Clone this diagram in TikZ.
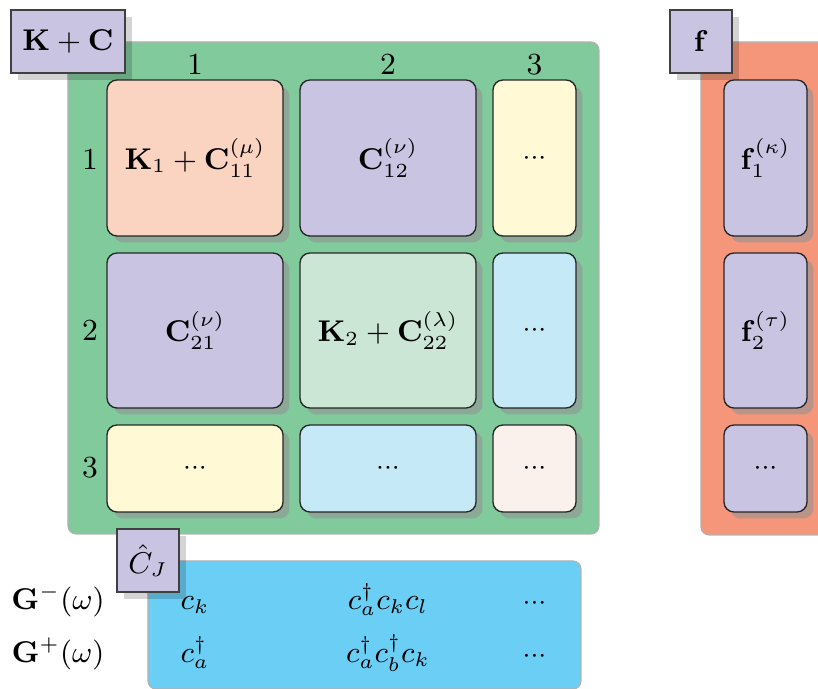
\documentclass[tikz,border=0pt]{standalone}
\usetikzlibrary{shadows,fit}
\definecolor{gpanel}{RGB}{128,202,156}
\definecolor{opanel}{RGB}{245,150,122}
\definecolor{bpanel}{RGB}{107,206,245}
\definecolor{cpurple}{RGB}{200,196,226}
\definecolor{cpeach}{RGB}{251,211,193}
\definecolor{cmint}{RGB}{204,230,214}
\definecolor{cyellow}{RGB}{255,249,214}
\definecolor{cblue}{RGB}{198,233,248}
\definecolor{cwhite}{RGB}{250,241,236}
\newcommand{\dd}{{\fontsize{8.4}{9}\selectfont$\mathord{\cdotp}\mathord{\cdotp}\mathord{\cdotp}$}}
\begin{document}
\begin{tikzpicture}[x=0.3pt,y=-0.3pt,
  every node/.style={font=\fontsize{9.2}{11}\selectfont},
  panel/.style={draw=black!30, line width=0.35pt, rounded corners=2.4pt, inner sep=0pt},
  cell/.style={draw=black!85, line width=0.4pt, rounded corners=3pt, inner sep=0pt,
    general shadow={fill=black!42, fill opacity=0.6, shadow xshift=1.95pt, shadow yshift=-1.95pt}},
  lbl/.style={draw=black!75, fill=cpurple, line width=0.45pt, inner sep=0pt,
    general shadow={fill=black, fill opacity=0.17, shadow xshift=2.1pt, shadow yshift=-2.1pt}},
  txt/.style={inner sep=0pt},
  idx/.style={anchor=base, inner sep=0pt},
  op/.style={anchor=base, inner sep=0pt},
]
\useasboundingbox (0,0) rectangle (818,689);
\clip (0,0) rectangle (818,689);
% panels
\node[panel, fill=gpanel, fit={(68,42) (599,534)}] (KC) {};
\node[panel, fill=opanel, fit={(701,42) (860,535)}] (F) {};
\node[panel, fill=bpanel, fit={(148,561) (581,689)}] (GP) {};
% matrix cells
\node[cell, fill=cpeach, fit={(107,80) (283,236)}] (c11) {};
\node[cell, fill=cpurple, fit={(300,80) (476,236)}] (c12) {};
\node[cell, fill=cyellow, fit={(493,80) (576,236)}] (c13) {};
\node[cell, fill=cpurple, fit={(107,253) (283,408)}] (c21) {};
\node[cell, fill=cmint, fit={(300,253) (476,408)}] (c22) {};
\node[cell, fill=cblue, fit={(493,253) (576,408)}] (c23) {};
\node[cell, fill=cyellow, fit={(107,425) (283,512)}] (c31) {};
\node[cell, fill=cblue, fit={(300,425) (476,512)}] (c32) {};
\node[cell, fill=cwhite, fit={(493,425) (576,512)}] (c33) {};
\node[txt] (t11) at (c11.center) {$\mathbf{K}_1+\mathbf{C}_{11}^{(\mu)}$};
\node[txt] (t12) at (c12.center) {$\mathbf{C}_{12}^{(\nu)}$};
\node[txt] (t13) at (c13.center) {\dd};
\node[txt] (t21) at (c21.center) {$\mathbf{C}_{21}^{(\nu)}$};
\node[txt] (t22) at (c22.center) {$\mathbf{K}_2+\mathbf{C}_{22}^{(\lambda)}$};
\node[txt] (t23) at (c23.center) {\dd};
\node[txt] (t31) at (c31.center) {\dd};
\node[txt] (t32) at (c32.center) {\dd};
\node[txt] (t33) at (c33.center) {\dd};
% vector cells
\node[cell, fill=cpurple, fit={(724,80) (807,236)}] (f1) {};
\node[cell, fill=cpurple, fit={(724,253) (807,408)}] (f2) {};
\node[cell, fill=cpurple, fit={(724,425) (807,512)}] (f3) {};
\node[txt] (tf1) at (f1.center) {$\mathbf{f}_1^{(\kappa)}$};
\node[txt] (tf2) at (f2.center) {$\mathbf{f}_2^{(\tau)}$};
\node[txt] (tf3) at (f3.center) {\dd};
% indices
\node[idx] (col1) at (195,75) {1};
\node[idx] (col2) at (388,75) {2};
\node[idx] (col3) at (534.5,75) {3};
\node[idx] (row1) at (90,169) {1};
\node[idx] (row2) at (90,341) {2};
\node[idx] (row3) at (90,478) {3};
% title boxes
\node[lbl, fit={(11,10) (125,73)}] (lkc) {};
\node[lbl, fit={(670,10) (732,73)}] (lf) {};
\node[lbl, fit={(117,529) (179,592)}] (lcj) {};
\node[txt] (tkc) at (lkc.center) {$\mathbf{K}+\mathbf{C}$};
\node[txt] (tf) at (lf.center) {$\mathbf{f}$};
\node[txt] (tcj) at (lcj.center) {$\hat{C}_J$};
% Green's function operators
\node[op] (gm) at (58,610) {$\mathbf{G}^{-}(\omega)$};
\node[op] (gp) at (58,663) {$\mathbf{G}^{+}(\omega)$};
\node[op] (o11) at (195,610) {$c_k$};
\node[op] (o12) at (388,610) {$c_a^\dagger c_k c_l$};
\node[op] (o13) at (534.5,610) {\dd};
\node[op] (o21) at (195,663) {$c_a^\dagger$};
\node[op] (o22) at (388,663) {$c_a^\dagger c_b^\dagger c_k$};
\node[op] (o23) at (534.5,663) {\dd};
\end{tikzpicture}
\end{document}
